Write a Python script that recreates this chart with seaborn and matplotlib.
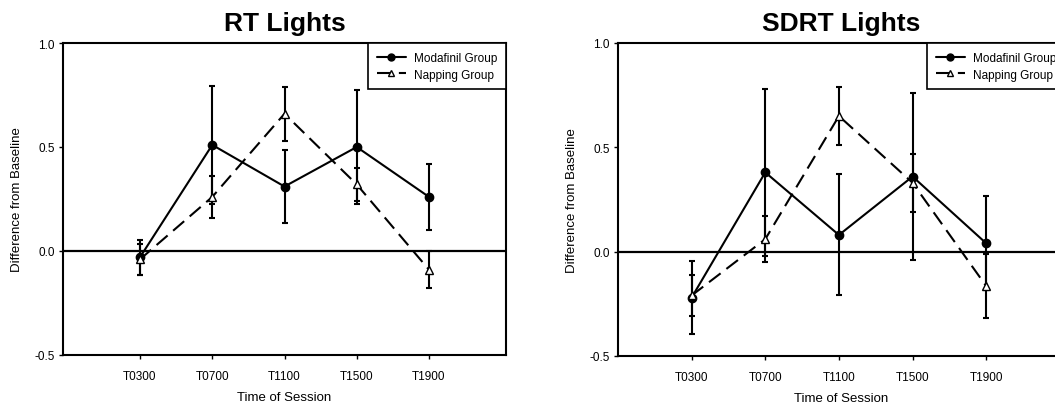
import numpy as np
import pandas as pd
import matplotlib
matplotlib.use("Agg")
import matplotlib.pyplot as plt
import seaborn as sns

sessions = ["T0300", "T0700", "T1100", "T1500", "T1900"]
groups = ["Modafinil Group", "Napping Group"]

rt_modafinil = [-0.03, 0.51, 0.31, 0.50, 0.26]
rt_modafinil_err = [0.085, 0.285, 0.175, 0.275, 0.16]
rt_napping = [-0.04, 0.26, 0.66, 0.32, -0.09]
rt_napping_err = [0.075, 0.10, 0.13, 0.08, 0.09]

sdrt_modafinil = [-0.22, 0.38, 0.08, 0.36, 0.04]
sdrt_modafinil_err = [0.175, 0.40, 0.29, 0.40, 0.225]
sdrt_napping = [-0.21, 0.06, 0.65, 0.33, -0.165]
sdrt_napping_err = [0.10, 0.11, 0.14, 0.14, 0.155]

titles = ["RT Lights", "SDRT Lights"]
y_ticks = [-0.5, 0.0, 0.5, 1.0]
y_tick_labels = ["-0.5", "0.0", "0.5", "1.0"]

sns.set_theme(style="white")
plt.rcParams["font.family"] = ["Liberation Sans", "DejaVu Sans"]
plt.rcParams["text.color"] = "black"
plt.rcParams["axes.labelcolor"] = "black"
plt.rcParams["xtick.color"] = "black"
plt.rcParams["ytick.color"] = "black"

fig = plt.figure(figsize=(10.55, 4.1), dpi=100)
ax1 = fig.add_axes([63 / 1055, 54 / 410, 443 / 1055, 312 / 410])
ax2 = fig.add_axes([618 / 1055, 53 / 410, 447 / 1055, 313 / 410])

panels = [
    (ax1, rt_modafinil, rt_modafinil_err, rt_napping, rt_napping_err, (-1.066, 5.066)),
    (ax2, sdrt_modafinil, sdrt_modafinil_err, sdrt_napping, sdrt_napping_err, (-1.0, 5.07)),
]

for i, (ax, mod, mod_e, nap, nap_e, xl) in enumerate(panels):
    pos = np.arange(len(sessions))
    df = pd.DataFrame({
        "pos": np.concatenate([pos, pos]),
        "value": mod + nap,
        "group": [groups[0]] * len(pos) + [groups[1]] * len(pos),
    })
    ax.axhline(0, color="black", lw=1.6, zorder=1)
    for vals, errs in [(mod, mod_e), (nap, nap_e)]:
        ax.errorbar(pos, vals, yerr=errs, fmt="none", ecolor="black",
                    elinewidth=1.5, capsize=2.5, capthick=1.5, zorder=2)
    sns.lineplot(data=df, x="pos", y="value", style="group", ax=ax,
                 color="black", lw=1.5, markers={groups[0]: "o", groups[1]: "^"},
                 dashes={groups[0]: "", groups[1]: (7, 3.5)},
                 markersize=6, markeredgecolor="black", markeredgewidth=1.0,
                 zorder=3)
    lines = [l for l in ax.get_lines() if l.get_marker() in ("o", "^")]
    for l in lines:
        if l.get_marker() == "^":
            l.set_markerfacecolor("white")
        else:
            l.set_markerfacecolor("black")
    ax.set_xlim(*xl)
    ax.set_ylim(-0.5, 1.0)
    ax.set_xticks(pos)
    ax.set_xticklabels(sessions, fontsize=8.5)
    ax.set_yticks(y_ticks)
    ax.set_yticklabels(y_tick_labels, fontsize=8.5)
    ax.set_xlabel("Time of Session", fontsize=9.5, labelpad=6)
    ax.set_ylabel("Difference from Baseline", fontsize=9.5, labelpad=8)
    ax.set_title(titles[i], fontsize=19, fontweight="bold", pad=9, color="black")
    for s in ax.spines.values():
        s.set_visible(True)
        s.set_color("black")
        s.set_linewidth(1.5)
    ax.tick_params(axis="x", direction="out", length=3, width=1, color="black",
                   labelcolor="black", bottom=True, pad=8)
    ax.tick_params(axis="y", direction="out", length=3, width=1, color="black",
                   labelcolor="black", left=True, pad=3)
    leg = ax.legend(loc="upper right", borderaxespad=0, fontsize=8.5,
                    frameon=True, fancybox=False, edgecolor="black",
                    handlelength=2.45, borderpad=0.75, labelspacing=0.4,
                    handletextpad=0.7)
    leg.get_frame().set_linewidth(1.2)
    leg.get_frame().set_alpha(1)
    for t in leg.get_texts():
        t.set_color("black")
    for h in leg.legend_handles:
        if h.get_marker() == "^":
            h.set_markerfacecolor("white")
        h.set_markersize(5)
        h.set_color("black")

fig.savefig("out.png", dpi=100)
